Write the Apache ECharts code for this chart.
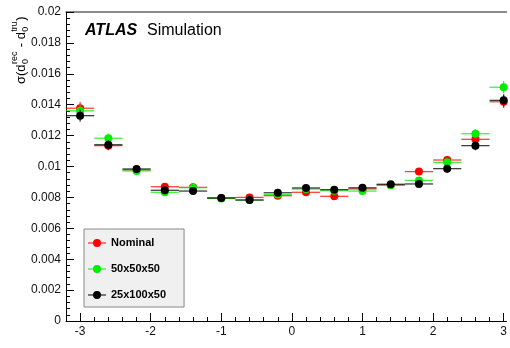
<!DOCTYPE html>
<html>
<head>
<meta charset="utf-8">
<script src="https://cdn.jsdelivr.net/npm/echarts@6/dist/echarts.min.js"></script>
<style>html,body{margin:0;padding:0;background:#fff;}#c{width:510px;height:348px;}</style>
</head>
<body>
<div id="c"></div>
<script>
// ---- data ----
const binCenters = [-3.0,-2.6,-2.2,-1.8,-1.4,-1.0,-0.6,-0.2,0.2,0.6,1.0,1.4,1.8,2.2,2.6,3.0];
const binHalfWidth = 0.2;
const nominal  = [0.01377,0.01135,0.00978,0.00869,0.00865,0.00796,0.00800,0.00811,0.00833,0.00807,0.00855,0.00880,0.00967,0.01042,0.01176,0.01419];
const g50x50x50 = [0.01361,0.01183,0.00971,0.00833,0.00863,0.00793,0.00783,0.00818,0.00854,0.00843,0.00841,0.00878,0.00910,0.01027,0.01212,0.01513];
const g25x100x50 = [0.01329,0.01141,0.00984,0.00846,0.00841,0.00796,0.00783,0.00830,0.00861,0.00850,0.00862,0.00885,0.00887,0.00986,0.01135,0.01428];
const yErr = [0.0004,0.0003,0.00025,0.0002,0.0002,0.0002,0.0002,0.0002,0.0002,0.0002,0.0002,0.0002,0.0002,0.00025,0.0003,0.0004];
const seriesNames = ['Nominal','50x50x50','25x100x50'];
const seriesColors = ['#ff0000','#00ee00','#000000'];
const xMajorTicks = [-3,-2,-1,0,1,2,3];
const xMinorTicks = [-2.8,-2.6,-2.4,-2.2,-1.8,-1.6,-1.4,-1.2,-0.8,-0.6,-0.4,-0.2,0.2,0.4,0.6,0.8,1.2,1.4,1.6,1.8,2.2,2.4,2.6,2.8];

const font = '"Liberation Sans", Arial, Helvetica, sans-serif';
const allY = [nominal, g50x50x50, g25x100x50];

const chart = echarts.init(document.getElementById('c'), null, {renderer:'canvas'});

const series = [];
allY.forEach((vals, k) => {
  const data = binCenters.map((x, i) => [x, vals[i], yErr[i]]);
  series.push({
    name: seriesNames[k] + ' err',
    type: 'custom',
    xAxisIndex: 0, yAxisIndex: 0,
    data: data,
    clip: true,
    silent: true,
    z: 2 + k*2,
    renderItem: function(params, api) {
      const x = api.value(0), y = api.value(1), e = api.value(2);
      const l = api.coord([x - binHalfWidth, y]);
      const r = api.coord([x + binHalfWidth, y]);
      const t = api.coord([x, y + e]);
      const b = api.coord([x, y - e]);
      const st = {stroke: seriesColors[k], lineWidth: 1.3, opacity: 0.75};
      return {type:'group', children:[
        {type:'line', shape:{x1:l[0], y1:l[1], x2:r[0], y2:r[1]}, style: st},
        {type:'line', shape:{x1:t[0], y1:t[1], x2:b[0], y2:b[1]}, style: st}
      ]};
    }
  });
  series.push({
    name: seriesNames[k],
    type: 'scatter',
    xAxisIndex: 0, yAxisIndex: 0,
    data: binCenters.map((x, i) => [x, vals[i]]),
    symbol: 'circle',
    symbolSize: 8,
    itemStyle: {color: seriesColors[k], opacity: 1},
    z: 3 + k*2
  });
});

// Y-axis title pieces
const cv = document.createElement('canvas').getContext('2d');
function tw(t, s){ cv.font = s + 'px "Liberation Sans"'; return cv.measureText(t).width; }
const mainS = 13, smallS = 9;
const pieces = [];
let cx = 0;
function addMain(t){ pieces.push({type:'text', x:cx, y:0, style:{text:t, font: mainS+'px '+font, fill:'#000', textVerticalAlign:'middle', textAlign:'left'}}); cx += tw(t, mainS); }
function addStack(sub, sup){
  pieces.push({type:'text', x:cx+0.5, y:5, style:{text:sub, font: smallS+'px '+font, fill:'#000', textVerticalAlign:'middle', textAlign:'left'}});
  pieces.push({type:'text', x:cx+0.5, y:-6, style:{text:sup, font: smallS+'px '+font, fill:'#000', textVerticalAlign:'middle', textAlign:'left'}});
  cx += Math.max(tw(sub, smallS), tw(sup, smallS)) + 1;
}
addMain('σ(d'); addStack('0','rec'); addMain(' - d'); addStack('0','tru'); addMain(')');

const option = {
  animation: false,
  backgroundColor: '#ffffff',
  grid: {left: 66, top: 12, right: 0, bottom: 27, show: false, containLabel: false},
  xAxis: [{
    type: 'value', min: -3.2, max: 3.04, position: 'bottom',
    axisLine: {show: true, onZero: false, lineStyle: {color: '#000', width: 1}},
    axisTick: {show: true, inside: true, length: 8, customValues: xMajorTicks, lineStyle: {color: '#000'}},
    axisLabel: {show: true, customValues: xMajorTicks, margin: 5, fontSize: 12, fontFamily: font, color: '#111'},
    splitLine: {show: false}
  }, {
    type: 'value', min: -3.2, max: 3.04, position: 'bottom',
    axisLine: {show: false, onZero: false},
    axisTick: {show: true, inside: true, length: 4, customValues: xMinorTicks, lineStyle: {color: '#000'}},
    axisLabel: {show: false},
    splitLine: {show: false}
  }, {
    type: 'value', min: -3.2, max: 3.04, position: 'top',
    axisLine: {show: true, onZero: false, lineStyle: {color: '#666', width: 1.5}},
    axisTick: {show: false},
    axisLabel: {show: false},
    splitLine: {show: false}
  }],
  yAxis: [{
    type: 'value', min: 0, max: 0.02, interval: 0.002,
    axisLine: {show: true, onZero: false, lineStyle: {color: '#000', width: 1}},
    axisTick: {show: true, inside: true, length: 8, lineStyle: {color: '#000'}},
    minorTick: {show: true, splitNumber: 5, length: 4, lineStyle: {color: '#000'}},
    axisLabel: {margin: 5, fontSize: 12, fontFamily: font, color: '#111',
      formatter: v => String(parseFloat(v.toFixed(4)))},
    splitLine: {show: false}
  }],
  legend: {
    orient: 'vertical', left: 84, top: 229,
    data: seriesNames.map(n => ({name: n})),
    icon: 'path://M0,3.5 L5.5,3.5 L5.5,4.5 L0,4.5 Z M12.5,3.5 L18,3.5 L18,4.5 L12.5,4.5 Z M5,4 A4,4 0 1,1 13,4 A4,4 0 1,1 5,4 Z',
    itemWidth: 18, itemHeight: 8,
    itemGap: 14,
    padding: [8, 18, 6, 4],
    backgroundColor: '#f0f0f0', borderColor: '#888', borderWidth: 1, borderRadius: 0,
    textStyle: {fontSize: 11, fontWeight: 'bold', fontFamily: font, color: '#000', lineHeight: 12},
    selectedMode: false
  },
  graphic: [
    {type: 'group', x: 21, y: 84, rotation: Math.PI/2, children: pieces},
    {type: 'text', left: 85, top: 23, style: {text: 'ATLAS', font: 'italic bold 16px ' + font, fill: '#000'}},
    {type: 'text', left: 147, top: 23, style: {text: 'Simulation', font: '16px ' + font, fill: '#000'}}
  ],
  series: series
};
chart.setOption(option);
</script>
</body>
</html>
